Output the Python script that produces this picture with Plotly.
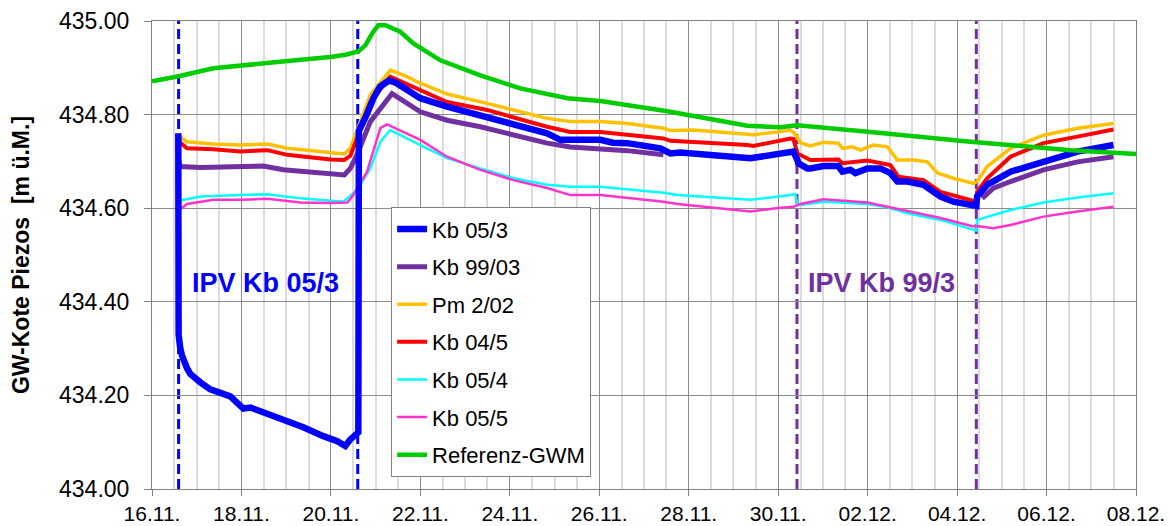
import pandas as pd
import plotly.graph_objects as go

# ---------------- data (days since 16.11. 00:00, level in m ü.M.) ----------------
START = "2007-11-16"

KB053_D = [0.588, 0.595, 0.633, 0.671, 0.783, 0.856, 1.080, 1.303, 1.751, 2.042, 2.200, 2.422, 2.936,
           3.383, 3.831, 4.143, 4.322, 4.434, 4.613, 4.625, 4.800, 4.950, 5.100, 5.300, 5.450, 5.999,
           6.596, 7.341, 8.079, 8.833, 9.130, 9.578, 10.025, 10.300, 10.628, 11.366, 11.590, 11.814,
           12.484, 13.379, 13.602, 14.273, 14.340, 14.430, 14.452, 14.653, 14.720, 15.011, 15.346,
           15.436, 15.615, 15.727, 15.995, 16.286, 16.509, 16.666, 16.890, 17.248, 17.628, 17.918,
           18.366, 18.430, 18.448, 18.672, 19.193, 19.931, 20.691, 21.496]
KB053_V = [434.760, 434.330, 434.300, 434.285, 434.258, 434.246, 434.228, 434.213, 434.198, 434.172,
           434.174, 434.166, 434.149, 434.132, 434.113, 434.102, 434.092, 434.106, 434.121, 434.765,
           434.800, 434.835, 434.860, 434.873, 434.868, 434.835, 434.817, 434.799, 434.778, 434.760,
           434.746, 434.747, 434.746, 434.740, 434.739, 434.728, 434.717, 434.719, 434.714, 434.707,
           434.710, 434.717, 434.721, 434.703, 434.696, 434.685, 434.685, 434.690, 434.690, 434.678,
           434.682, 434.675, 434.685, 434.685, 434.675, 434.657, 434.657, 434.650, 434.625, 434.614,
           434.607, 434.605, 434.625, 434.650, 434.678, 434.699, 434.721, 434.735]

KB9903_D = [0.595, 0.633, 1.080, 1.975, 2.489, 2.936, 3.696, 4.300, 4.434, 4.584, 4.882, 5.367, 5.999,
            6.596, 7.341, 8.079, 8.833, 9.354, 10.025, 10.628, 11.434, 15.000, 18.560, 18.813, 19.193,
            19.931, 20.691, 21.496]
KB9903_V = [434.703, 434.689, 434.687, 434.690, 434.690, 434.682, 434.675, 434.671, 434.685, 434.714,
            434.785, 434.845, 434.806, 434.788, 434.774, 434.756, 434.739, 434.731, 434.728, 434.723,
            434.714, None, 434.621, 434.643, 434.657, 434.682, 434.699, 434.710]

PM202_D = [0.595, 0.633, 0.783, 1.371, 1.975, 2.578, 3.025, 3.987, 4.300, 4.434, 4.584, 4.882, 5.329,
           5.702, 5.999, 6.596, 7.491, 8.079, 8.833, 9.354, 9.578, 10.025, 10.628, 11.434, 11.590,
           12.104, 13.312, 13.446, 13.983, 14.273, 14.385, 14.497, 14.720, 15.011, 15.346, 15.436,
           15.660, 15.838, 16.129, 16.442, 16.666, 17.024, 17.337, 17.561, 17.918, 18.366, 18.448,
           18.672, 19.193, 19.931, 20.691, 21.496]
PM202_V = [434.760, 434.752, 434.742, 434.737, 434.735, 434.737, 434.728, 434.719, 434.716, 434.728,
           434.765, 434.842, 434.895, 434.881, 434.867, 434.844, 434.824, 434.810, 434.792, 434.785,
           434.785, 434.785, 434.781, 434.771, 434.766, 434.767, 434.758, 434.757, 434.763, 434.767,
           434.758, 434.740, 434.733, 434.741, 434.739, 434.728, 434.731, 434.724, 434.735, 434.731,
           434.703, 434.703, 434.699, 434.675, 434.664, 434.653, 434.657, 434.689, 434.728, 434.756,
           434.771, 434.781]

KB045_D = [0.595, 0.633, 0.783, 1.371, 1.975, 2.578, 3.025, 3.987, 4.300, 4.434, 4.584, 4.882, 5.329,
           5.999, 6.596, 7.491, 8.079, 8.833, 9.354, 10.025, 11.434, 11.590, 13.312, 13.446, 14.273,
           14.340, 14.430, 14.653, 14.720, 15.346, 15.436, 15.995, 16.509, 16.689, 17.248, 17.628,
           18.366, 18.430, 18.448, 18.672, 19.193, 19.931, 20.691, 21.496]
KB045_V = [434.748, 434.740, 434.728, 434.726, 434.721, 434.724, 434.714, 434.704, 434.703, 434.712,
           434.749, 434.827, 434.881, 434.852, 434.827, 434.810, 434.795, 434.774, 434.763, 434.763,
           434.749, 434.744, 434.735, 434.733, 434.749, 434.748, 434.717, 434.705, 434.703, 434.704,
           434.696, 434.702, 434.692, 434.667, 434.660, 434.635, 434.616, 434.614, 434.635, 434.664,
           434.710, 434.739, 434.753, 434.768]

KB054_D = [0.595, 1.080, 1.975, 2.578, 3.316, 3.987, 4.278, 4.584, 4.882, 5.105, 5.329, 5.999, 6.596,
           7.341, 8.079, 8.833, 9.354, 10.025, 11.434, 11.747, 13.379, 14.273, 14.385, 14.430, 14.497,
           15.011, 15.995, 16.442, 16.890, 17.628, 18.366, 18.430, 18.448, 19.193, 19.931, 20.691,
           21.496]
KB054_V = [434.616, 434.625, 434.628, 434.630, 434.621, 434.616, 434.614, 434.639, 434.685, 434.742,
           434.767, 434.735, 434.707, 434.685, 434.664, 434.650, 434.646, 434.646, 434.633, 434.628,
           434.618, 434.628, 434.630, 434.607, 434.607, 434.614, 434.609, 434.602, 434.589, 434.575,
           434.554, 434.552, 434.575, 434.596, 434.612, 434.623, 434.632]

KB055_D = [0.595, 0.783, 1.371, 1.975, 2.578, 3.316, 3.987, 4.367, 4.501, 4.808, 5.105, 5.255, 5.999,
           6.596, 7.341, 8.079, 8.833, 9.354, 10.025, 11.434, 11.747, 13.379, 14.050, 14.340, 14.497,
           15.011, 15.995, 16.442, 16.890, 17.628, 18.366, 18.448, 18.813, 19.193, 19.931, 20.691,
           21.496]
KB055_V = [434.595, 434.609, 434.618, 434.618, 434.620, 434.612, 434.611, 434.612, 434.628, 434.678,
           434.771, 434.779, 434.746, 434.710, 434.682, 434.660, 434.643, 434.628, 434.628, 434.614,
           434.609, 434.593, 434.601, 434.603, 434.609, 434.619, 434.612, 434.603, 434.593, 434.579,
           434.561, 434.562, 434.557, 434.564, 434.582, 434.593, 434.603]

GWM_D = [0.0, 0.595, 1.371, 2.489, 3.093, 3.987, 4.322, 4.613, 4.770, 4.926, 5.060, 5.217, 5.329,
         5.552, 5.843, 6.447, 7.341, 8.235, 9.287, 10.025, 11.523, 12.551, 13.312, 14.050, 14.430,
         16.062, 18.298, 20.535, 22.0]
GWM_V = [434.871, 434.882, 434.899, 434.908, 434.915, 434.923, 434.928, 434.935, 434.948, 434.974,
         434.991, 434.991, 434.987, 434.977, 434.952, 434.916, 434.884, 434.856, 434.835, 434.829,
         434.807, 434.788, 434.776, 434.773, 434.777, 434.763, 434.742, 434.724, 434.716]

# IPV test periods (start / end, days since 16.11.)
IPV_0503 = [0.595, 4.600]
IPV_9903 = [14.420, 18.430]

X_TICK_START = "2007-11-16"
X_END = "2007-12-08"
Y_RANGE = [434.0, 435.0]

# ---------------- figure ----------------
base = pd.Timestamp(START)


def to_dates(days):
    return base + pd.to_timedelta(days, unit="D")


series = [
    # name, days, values, color, width, legend rank  (draw order = list order)
    ("Kb 99/03", KB9903_D, KB9903_V, "#7030A0", 5, 2),
    ("Pm 2/02", PM202_D, PM202_V, "#FFC000", 3.5, 3),
    ("Kb 04/5", KB045_D, KB045_V, "#FF0000", 4, 4),
    ("Kb 05/4", KB054_D, KB054_V, "#00FFFF", 2.5, 5),
    ("Kb 05/5", KB055_D, KB055_V, "#FF33CC", 2.5, 6),
    ("Kb 05/3", KB053_D, KB053_V, "#0000FF", 6.5, 1),
    ("Referenz-GWM", GWM_D, GWM_V, "#00CC00", 4.5, 7),
]

fig = go.Figure()
for name, d, v, col, w, rank in series:
    fig.add_trace(go.Scatter(
        x=to_dates(d), y=v, mode="lines", name=name,
        line=dict(color=col, width=w), legendrank=rank,
        legendgroup=name, connectgaps=False,
    ))

# dashed vertical markers of test periods
for d, col in [(IPV_0503[0], "#0000FF"), (IPV_0503[1], "#0000FF"),
               (IPV_9903[0], "#7030A0"), (IPV_9903[1], "#7030A0")]:
    xd = to_dates([d])[0]
    fig.add_shape(type="line", xref="x", yref="paper", x0=xd, x1=xd, y0=0, y1=1,
                  line=dict(color=col, width=3, dash="10px,5px"), layer="between")

fig.add_annotation(x=to_dates([2.53])[0], y=434.441, xref="x", yref="y",
                   text="<b>IPV Kb 05/3</b>", showarrow=False,
                   font=dict(size=27, color="#0000FF", family="Liberation Sans, Arial"))
fig.add_annotation(x=to_dates([16.30])[0], y=434.441, xref="x", yref="y",
                   text="<b>IPV Kb 99/3</b>", showarrow=False,
                   font=dict(size=27, color="#7030A0", family="Liberation Sans, Arial"))

fig.update_layout(
    width=1170, height=526,
    margin=dict(l=152, r=34, t=21, b=37),
    paper_bgcolor="white", plot_bgcolor="white",
    font=dict(family="Liberation Sans, Arial", color="black"),
    showlegend=True,
    legend=dict(x=0.243, y=0.602, xanchor="left", yanchor="top",
                bgcolor="white", bordercolor="#808080", borderwidth=1,
                font=dict(size=22, color="black"), traceorder="grouped",
                tracegroupgap=6),
)

fig.update_xaxes(
    type="date", range=[X_TICK_START, X_END], automargin=False,
    tick0=X_TICK_START, dtick=2 * 86400000, tickformat="%d.%m.",
    ticks="outside", ticklen=6, tickcolor="#808080",
    showgrid=True, gridcolor="#8c8c8c", gridwidth=1,
    minor=dict(dtick=43200000, tick0=X_TICK_START, showgrid=True,
               gridcolor="#dcdcdc", gridwidth=1.5, ticks=""),
    showline=True, linecolor="#808080", linewidth=1, mirror=True,
    tickfont=dict(size=21, color="black"),
)
fig.update_yaxes(
    range=Y_RANGE, dtick=0.2, tick0=434.0, tickformat=".2f", automargin=False,
    ticks="outside", ticklen=7, tickcolor="#808080", ticklabelstandoff=10,
    showgrid=True, gridcolor="#8c8c8c", gridwidth=1,
    showline=True, linecolor="#808080", linewidth=1, mirror=True,
    tickfont=dict(size=23, color="black"),
    title=dict(text="<b>GW-Kote Piezos \u00a0[m ü.M.]</b>",
               font=dict(size=23, color="black"), standoff=22),
    zeroline=False,
)

fig.write_html("out.html", config={"displayModeBar": False},
               post_script="document.body.style.margin='0';document.body.style.overflow='hidden';")
